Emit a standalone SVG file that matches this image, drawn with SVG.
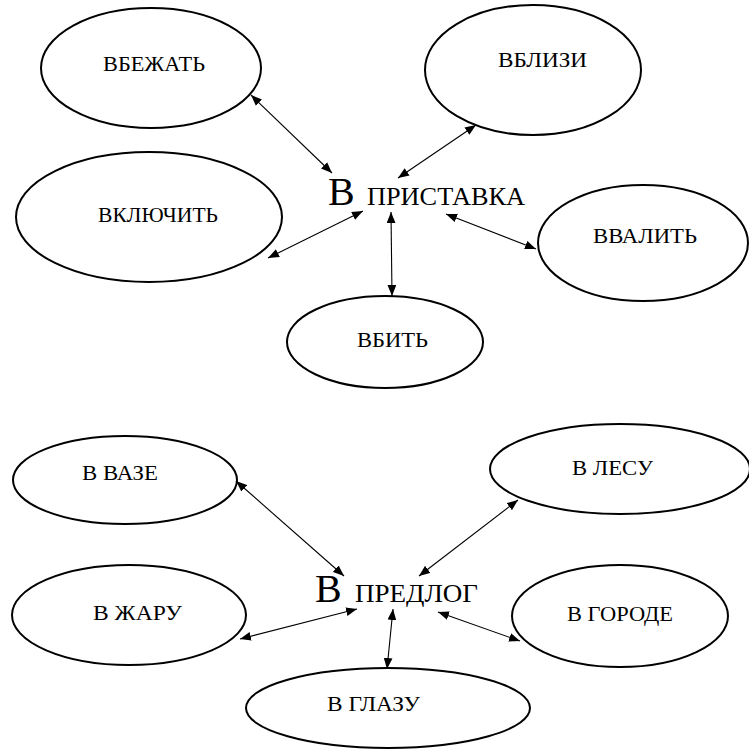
<svg xmlns="http://www.w3.org/2000/svg" width="749" height="753" viewBox="0 0 749 753">
<style>
.n ellipse{fill:#fff;stroke:#000;stroke-width:2}
.t{font-family:"Liberation Serif","Times New Roman",serif;font-size:20px;fill:#000}
.big{font-family:"Liberation Serif","Times New Roman",serif;font-size:40px;fill:#000}
.mid{font-family:"Liberation Serif","Times New Roman",serif;font-size:26px;fill:#000}
#conn line{stroke:#000;stroke-width:1.1;marker-start:url(#a);marker-end:url(#a)}
</style>
<defs>
<marker id="a" viewBox="0 0 10 8" refX="10" refY="4" markerWidth="11" markerHeight="9" markerUnits="userSpaceOnUse" orient="auto-start-reverse">
<path d="M0,0L10,4L0,8Z" fill="#000"/>
</marker>
</defs>
<rect width="749" height="753" fill="#fff"/>
<g id="n1" class="n"><ellipse cx="151" cy="68" rx="110" ry="60"/><text class="t" x="103" y="71" textLength="102" lengthAdjust="spacingAndGlyphs">ВБЕЖАТЬ</text></g>
<g id="n2" class="n"><ellipse cx="149" cy="217" rx="133" ry="65"/><text class="t" x="98" y="222" textLength="120" lengthAdjust="spacingAndGlyphs">ВКЛЮЧИТЬ</text></g>
<g id="n3" class="n"><ellipse cx="533" cy="70" rx="108" ry="65"/><text class="t" x="498" y="67" textLength="89" lengthAdjust="spacingAndGlyphs">ВБЛИЗИ</text></g>
<g id="n4" class="n"><ellipse cx="643" cy="243" rx="105" ry="58"/><text class="t" x="593" y="243" textLength="104" lengthAdjust="spacingAndGlyphs">ВВАЛИТЬ</text></g>
<g id="n5" class="n"><ellipse cx="385" cy="342" rx="98" ry="46"/><text class="t" x="357" y="347" textLength="71" lengthAdjust="spacingAndGlyphs">ВБИТЬ</text></g>
<g id="c1"><text class="big" x="328" y="205">В</text><text class="mid" x="367" y="205" textLength="158" lengthAdjust="spacingAndGlyphs">ПРИСТАВКА</text></g>
<g id="n6" class="n"><ellipse cx="125" cy="480" rx="112" ry="44"/><text class="t" x="82" y="480" textLength="76" lengthAdjust="spacingAndGlyphs">В ВАЗЕ</text></g>
<g id="n7" class="n"><ellipse cx="129" cy="615" rx="117" ry="50"/><text class="t" x="93" y="620" textLength="89" lengthAdjust="spacingAndGlyphs">В ЖАРУ</text></g>
<g id="n8" class="n"><ellipse cx="388" cy="708" rx="142" ry="40"/><text class="t" x="327" y="711" textLength="93" lengthAdjust="spacingAndGlyphs">В ГЛАЗУ</text></g>
<g id="n9" class="n"><ellipse cx="620" cy="469" rx="130" ry="45"/><text class="t" x="572" y="475" textLength="81" lengthAdjust="spacingAndGlyphs">В ЛЕСУ</text></g>
<g id="n10" class="n"><ellipse cx="620" cy="616" rx="108" ry="51"/><text class="t" x="567" y="621" textLength="106" lengthAdjust="spacingAndGlyphs">В ГОРОДЕ</text></g>
<g id="c2"><text class="big" x="315" y="602">В</text><text class="mid" x="355" y="602" textLength="123" lengthAdjust="spacingAndGlyphs">ПРЕДЛОГ</text></g>
<g id="conn">
<line x1="251" y1="95" x2="332" y2="173"/>
<line x1="268" y1="258" x2="363" y2="211"/>
<line x1="476" y1="125" x2="398" y2="178"/>
<line x1="446" y1="214" x2="536" y2="249"/>
<line x1="391" y1="212" x2="392" y2="296"/>
<line x1="236" y1="481" x2="344" y2="576"/>
<line x1="240" y1="639" x2="357" y2="609"/>
<line x1="518" y1="500" x2="419" y2="576"/>
<line x1="438" y1="612" x2="520" y2="641"/>
<line x1="393" y1="609" x2="387" y2="669"/>
</g>
</svg>
